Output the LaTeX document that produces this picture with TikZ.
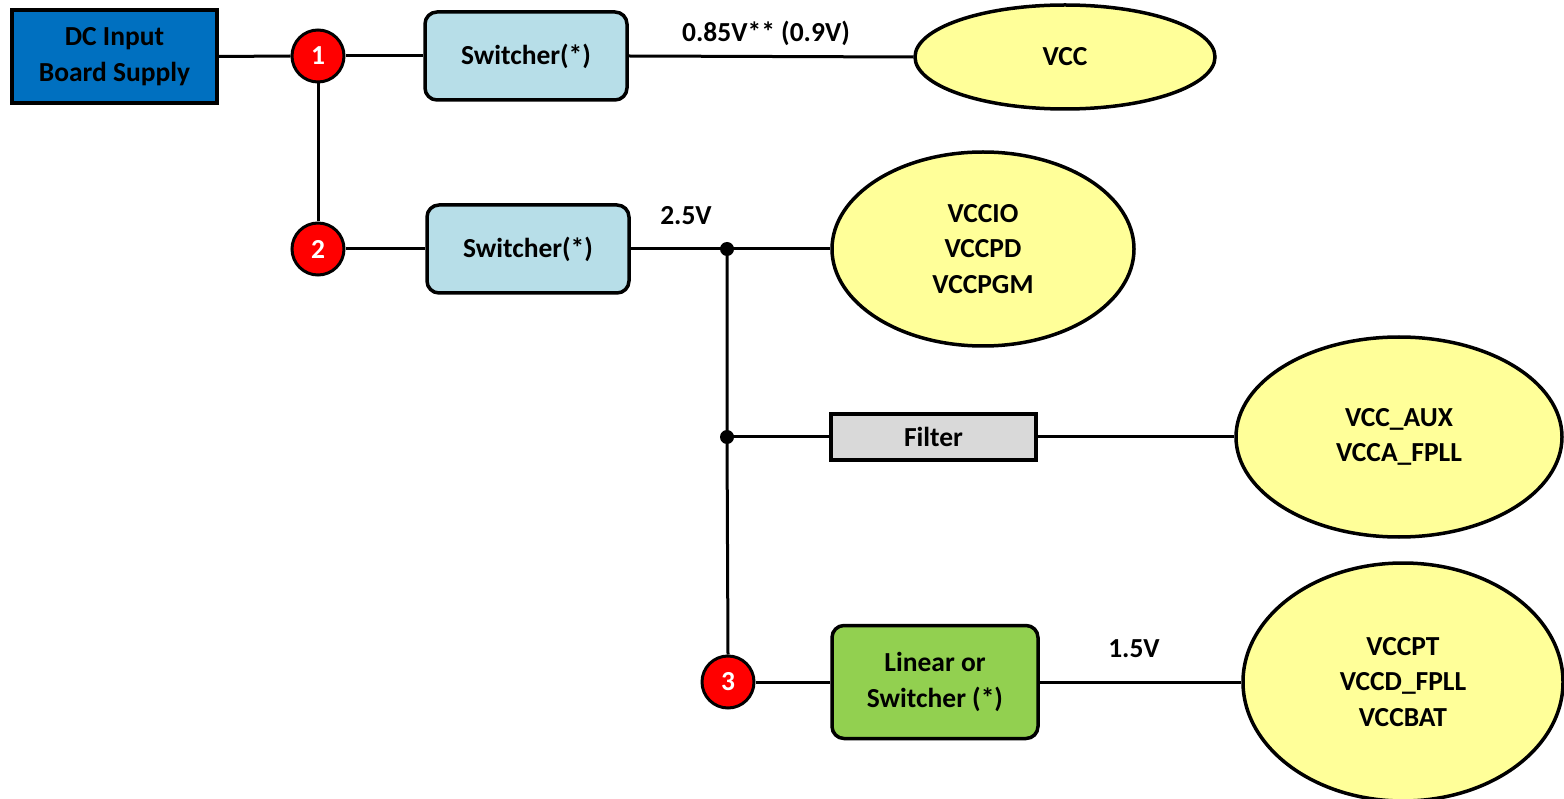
\documentclass[tikz,border=0pt]{standalone}
\usepackage{fontspec}
\setmainfont{Carlito}
\usetikzlibrary{shapes.geometric}
\definecolor{dcblue}{HTML}{0070C0}
\definecolor{swblue}{HTML}{B7DEE8}
\definecolor{lingreen}{HTML}{92D050}
\definecolor{filgray}{HTML}{D9D9D9}
\definecolor{railyel}{HTML}{FFFF99}
\definecolor{numred}{HTML}{FF0000}
\tikzset{
  txt/.style={font=\bfseries\fontsize{27.5}{35.5}\selectfont, align=center},
  wire/.style={line width=3pt, draw=black},
  srcbox/.style={txt, draw=black, line width=3.5pt, fill=dcblue, minimum width=205pt, minimum height=93pt, inner sep=0pt},
  swbox/.style={txt, draw=black, line width=3.5pt, fill=swblue, rounded corners=12pt, minimum width=202pt, minimum height=88pt, inner sep=0pt},
  linbox/.style={txt, draw=black, line width=3.5pt, fill=lingreen, rounded corners=12pt, minimum width=206pt, minimum height=113pt, inner sep=0pt},
  filbox/.style={txt, draw=black, line width=3.5pt, fill=filgray, minimum width=205pt, minimum height=46pt, inner sep=0pt},
  rail/.style={txt, ellipse, draw=black, line width=3.5pt, fill=railyel, inner sep=0pt},
  num/.style={circle, draw=black, line width=3pt, fill=numred, text=white, minimum size=52pt, inner sep=0pt, font=\bfseries\fontsize{27.5}{30}\selectfont},
  dot/.style={circle, fill=black, minimum size=14pt, inner sep=0pt},
  volt/.style={font=\bfseries\fontsize{27.5}{30}\selectfont}
}
\begin{document}
\begin{tikzpicture}[x=1pt,y=-1pt]
\useasboundingbox (0,0) rectangle (1564,799);
% nodes
\node[srcbox] (dc) at (114.5,56.5) {DC Input\\Board Supply};
\node[num] (n1) at (318,56) {1};
\node[num] (n2) at (318,249) {2};
\node[num] (n3) at (728,682) {3};
\node[swbox] (sw1) at (526,56) {Switcher(*)};
\node[swbox] (sw2) at (528,249) {Switcher(*)};
\node[filbox] (fil) at (933.5,437) {Filter};
\node[linbox] (lin) at (935,682) {Linear or\\Switcher (*)};
\node[rail, minimum width=300pt, minimum height=104pt] (vcc) at (1065,57) {VCC};
\node[rail, minimum width=302pt, minimum height=194pt] (vccio) at (983,249) {VCCIO\\VCCPD\\VCCPGM};
\node[rail, minimum width=326pt, minimum height=200pt] (aux) at (1399,437) {VCC\_AUX\\VCCA\_FPLL};
\node[rail, minimum width=320pt, minimum height=238pt] (pt) at (1403,682) {VCCPT\\VCCD\_FPLL\\VCCBAT};
\node[dot] (j1) at (727,249) {};
\node[dot] (j2) at (727,437) {};
% labels
\node[volt] (l1) at (766,33) {0.85V** (0.9V)};
\node[volt] (l2) at (686,216) {2.5V};
\node[volt] (l3) at (1134,649) {1.5V};
% connectors
\draw[wire] (dc.east) -- (n1.west);
\draw[wire] (n1.east) -- (sw1.west);
\draw[wire] (sw1.east) -- (vcc.west);
\draw[wire] (n1.south) -- (n2.north);
\draw[wire] (n2.east) -- (sw2.west);
\draw[wire] (sw2.east) -- (j1.center) -- (vccio.west);
\draw[wire] (j1.center) -- (j2.center) -- (n3.north);
\draw[wire] (j2.center) -- (fil.west);
\draw[wire] (fil.east) -- (aux.west);
\draw[wire] (n3.east) -- (lin.west);
\draw[wire] (lin.east) -- (pt.west);
\end{tikzpicture}
\end{document}
